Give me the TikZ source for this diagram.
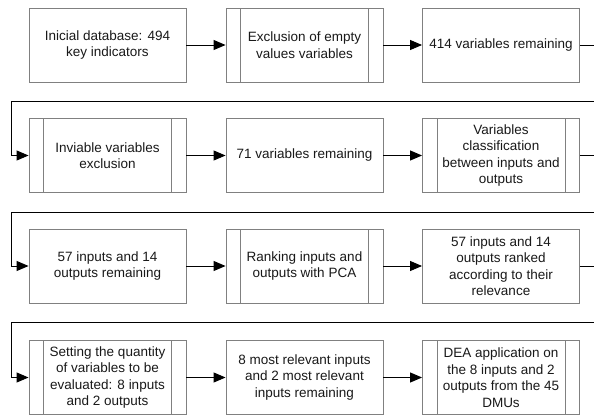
\documentclass[tikz,border=0pt]{standalone}
\usepackage{fontspec}
\setmainfont{Liberation Sans}
\usetikzlibrary{arrows.meta}
\tikzset{
  box/.style={draw=black!50, line width=0.9pt, rectangle, minimum width=157pt, minimum height=74pt,
    inner sep=0pt, align=center, text=black!90, font=\fontsize{13.5}{16.5}\selectfont},
  procbox/.style={box, path picture={
    \draw[black!50, line width=0.9pt] ([xshift=14.5pt]path picture bounding box.north west) -- ([xshift=14.5pt]path picture bounding box.south west);
    \draw[black!50, line width=0.9pt] ([xshift=-14.5pt]path picture bounding box.north east) -- ([xshift=-14.5pt]path picture bounding box.south east);}},
  conn/.style={draw=black, line width=1pt, -{Triangle[length=12pt,width=10pt]}},
}
\begin{document}
\begin{tikzpicture}[x=1pt,y=-1pt]
\useasboundingbox (0,0) rectangle (594,416);
\clip (0,0) rectangle (594,416);
\fill[white] (0,0) rectangle (594,416);
% row 1
\node[box] (a1) at (107.5,45) {Inicial database: 494\\key indicators};
\node[procbox] (a2) at (304.5,45) {Exclusion of empty\\values variables};
\node[box] (a3) at (501,45) {414 variables remaining};
% row 2
\node[procbox] (b1) at (107.5,155.5) {Inviable variables\\exclusion};
\node[box] (b2) at (304.5,155.5) {71 variables remaining};
\node[procbox] (b3) at (501,155.5) {Variables\\classification\\between inputs and\\outputs};
% row 3
\node[box] (c1) at (107.5,266) {57 inputs and 14\\outputs remaining};
\node[procbox] (c2) at (304.5,266) {Ranking inputs and\\outputs with PCA};
\node[box] (c3) at (501,266) {57 inputs and 14\\outputs ranked\\according to their\\relevance};
% row 4
\node[procbox] (d1) at (107.5,377.5) {Setting the quantity\\of variables to be\\evaluated: 8 inputs\\and 2 outputs};
\node[box] (d2) at (304.5,377.5) {8 most relevant inputs\\and 2 most relevant\\inputs remaining};
\node[procbox] (d3) at (501,377.5) {DEA application on\\the 8 inputs and 2\\outputs from the 45\\DMUs};
% turn points
\coordinate (r1) at (605,101);
\coordinate (l1) at (11,101);
\coordinate (r2) at (605,212);
\coordinate (l2) at (11,212);
\coordinate (r3) at (605,322);
\coordinate (l3) at (11,322);
% connectors
\draw[conn] (a1) -- (a2);
\draw[conn] (a2) -- (a3);
\draw[conn] (a3.east) -| (r1) -- (l1) |- (b1.west);
\draw[conn] (b1) -- (b2);
\draw[conn] (b2) -- (b3);
\draw[conn] (b3.east) -| (r2) -- (l2) |- (c1.west);
\draw[conn] (c1) -- (c2);
\draw[conn] (c2) -- (c3);
\draw[conn] (c3.east) -| (r3) -- (l3) |- (d1.west);
\draw[conn] (d1) -- (d2);
\draw[conn] (d2) -- (d3);
\end{tikzpicture}
\end{document}
